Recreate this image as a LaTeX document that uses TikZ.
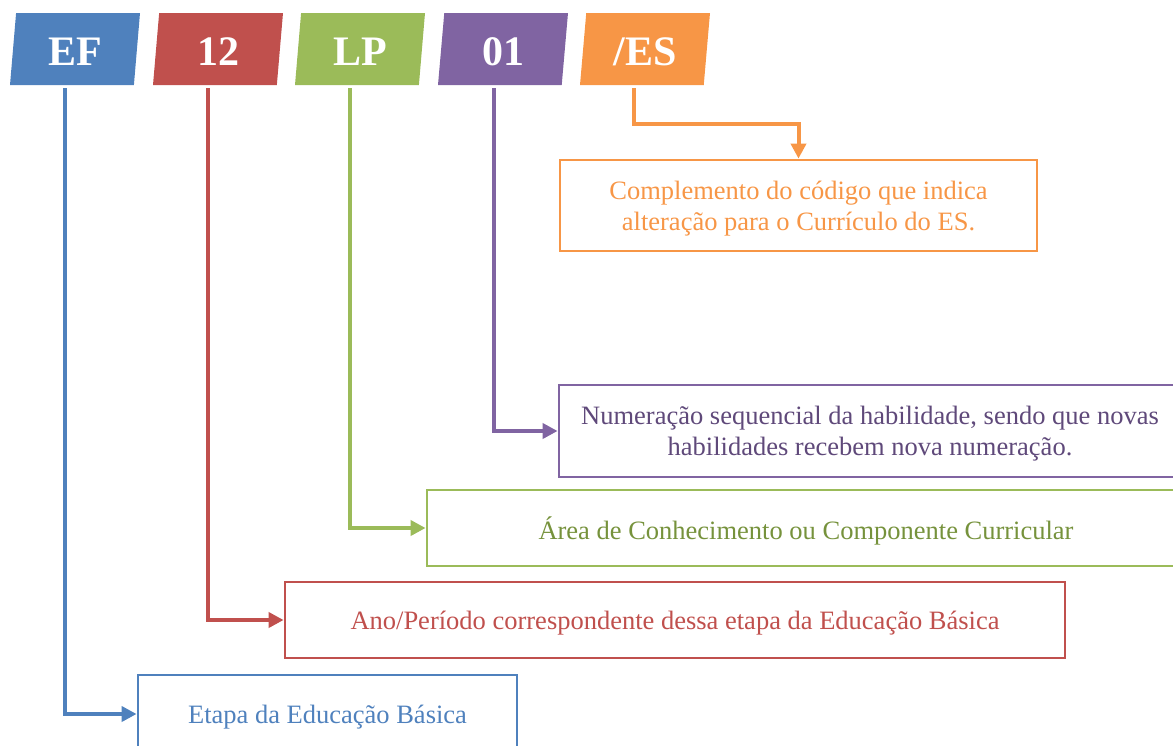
\documentclass[tikz,border=0pt]{standalone}
\usepackage{fontspec}
\setmainfont{Liberation Serif}
\usetikzlibrary{shapes.geometric,arrows.meta}
\definecolor{cblue}{HTML}{4F81BD}
\definecolor{cred}{HTML}{C0504D}
\definecolor{cgreen}{HTML}{9BBB59}
\definecolor{cgreentext}{HTML}{76923C}
\definecolor{cpurple}{HTML}{8064A2}
\definecolor{cpurpletext}{HTML}{5F497A}
\definecolor{corange}{HTML}{F79646}
\tikzset{
  x=1pt, y=-1pt,
  tag/.style={shape=trapezium, trapezium left angle=77.5, trapezium right angle=102.5,
    trapezium stretches body, minimum width=130pt, minimum height=72pt, inner sep=0pt,
    fill=#1, text=white, font=\fontsize{42}{46}\selectfont\bfseries},
  infobox/.style={draw=#1, line width=2.8pt, rectangle, inner sep=0pt, align=center,
    font=\fontsize{26.5}{32}\selectfont},
  link/.style={draw=#1, line width=4pt, -{Triangle[length=15pt,width=15pt]}},
}
\newcommand{\lowr}[1]{\raisebox{-3pt}[\height][\depth]{#1}}
\begin{document}
\begin{tikzpicture}
\useasboundingbox (0,0) rectangle (1173,745);
% tags
\node[tag=cblue]   (ef) at (75,49)  {\lowr{EF}};
\node[tag=cred]    (d12) at (218,49) {\lowr{12}};
\node[tag=cgreen]  (lp) at (360,49) {\lowr{LP}};
\node[tag=cpurple] (d01) at (503,49) {\lowr{01}};
\node[tag=corange] (es) at (645,49) {\lowr{/ES}};
% boxes
\node[infobox=corange, text=corange, minimum width=477pt, minimum height=91pt] (esbox) at (798.5,205.5)
  {\lowr{\begin{tabular}{@{}c@{}}Complemento do código que indica\\[-1pt]alteração para o Currículo do ES.\end{tabular}}};
\node[infobox=cpurple, text=cpurpletext, minimum width=622pt, minimum height=92pt] (d01box) at (870,431)
  {\lowr{\begin{tabular}{@{}c@{}}Numeração sequencial da habilidade, sendo que novas\\[-1pt]habilidades recebem nova numeração.\end{tabular}}};
\node[infobox=cgreen, text=cgreentext, minimum width=758pt, minimum height=76pt] (lpbox) at (806,528)
  {\lowr{Área de Conhecimento ou Componente Curricular}};
\node[infobox=cred, text=cred, minimum width=780pt, minimum height=76pt] (d12box) at (675,620)
  {\lowr{Ano/Período correspondente dessa etapa da Educação Básica}};
\node[infobox=cblue, text=cblue, minimum width=379pt, minimum height=78pt] (efbox) at (327.5,714)
  {\lowr{Etapa da Educação Básica}};
% connectors
\draw[link=cblue]   ([xshift=-10pt,yshift=-3pt]ef.south) |- (efbox.west);
\draw[link=cred]    ([xshift=-10pt,yshift=-3pt]d12.south) |- (d12box.west);
\draw[link=cgreen]  ([xshift=-10pt,yshift=-3pt]lp.south) |- (lpbox.west);
\draw[link=cpurple] ([xshift=-9pt,yshift=-3pt]d01.south) |- (d01box.west);
\draw[link=corange] ([xshift=-11pt,yshift=-3pt]es.south) -- ++(0,36) -| (esbox.north);
\end{tikzpicture}
\end{document}
